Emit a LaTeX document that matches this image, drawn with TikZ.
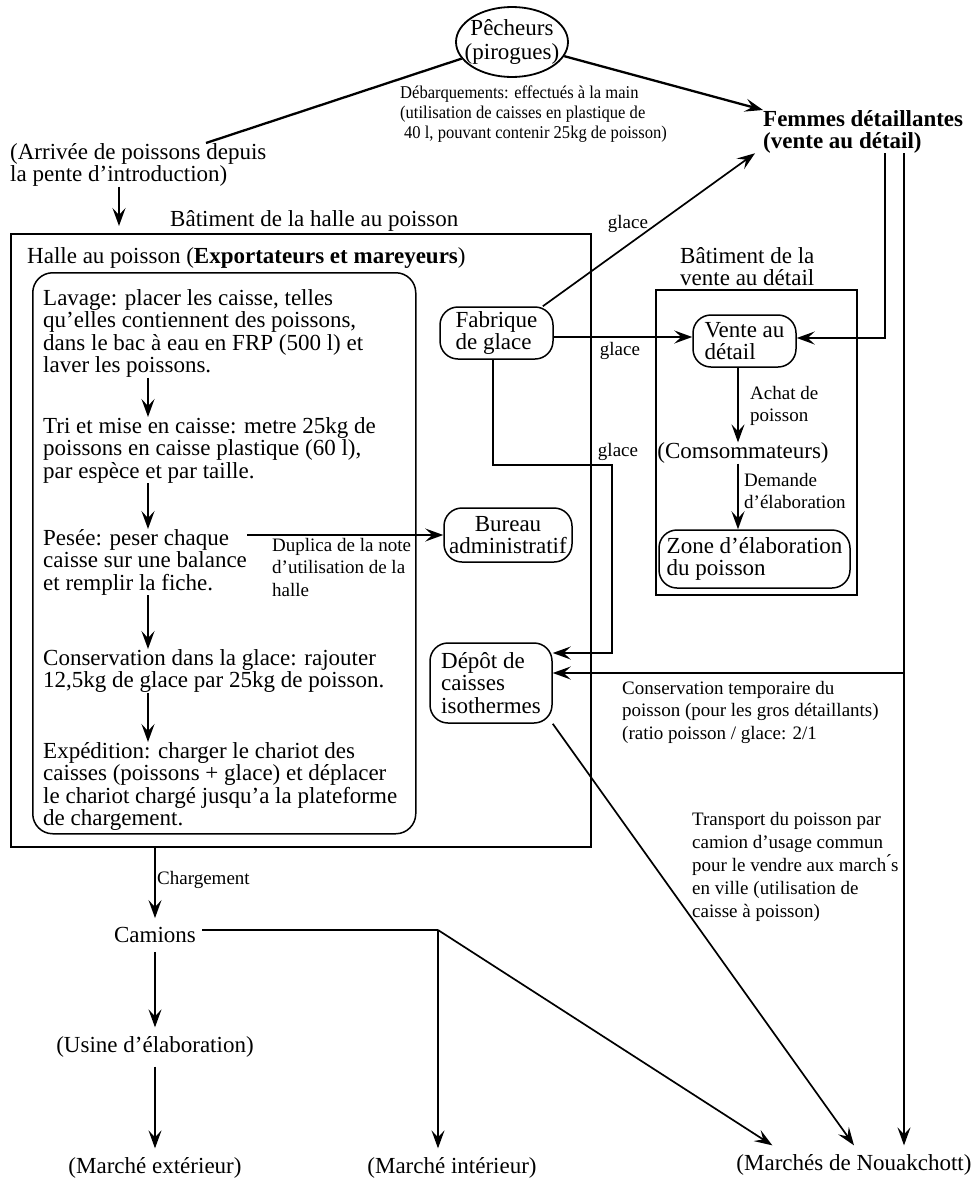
\documentclass[tikz,border=0pt]{standalone}
\usepackage{fontspec}
\setmainfont{Liberation Serif}
\newfontfamily\narrowserif[FakeStretch=0.92]{Liberation Serif}
\usetikzlibrary{arrows.meta,shapes.geometric,calc}

\tikzset{
  txt/.style={font=\fontsize{23}{22.5}\selectfont, inner sep=0pt, align=left},
  lbl/.style={font=\fontsize{19}{22.5}\selectfont, inner sep=0pt, align=left},
  endtxt/.style={font=\fontsize{23}{22.5}\selectfont, inner xsep=6pt, inner ysep=9pt},
  frame/.style={draw, line width=1.5pt, inner sep=0pt},
  rbox/.style={draw, line width=1.5pt, rounded corners=18pt, inner sep=0pt,
               font=\fontsize{23}{22.5}\selectfont, align=left},
  conn/.style={line width=1.7pt},
  arr/.style={conn, -{Stealth[length=18pt,width=13pt,inset=7pt]}},
  heavy/.style={line width=2.3pt},
}

\begin{document}
\begin{tikzpicture}[x=1pt,y=-1pt]
\useasboundingbox (0,0) rectangle (974,1178);

% --- fishermen and landing ---
\node[draw, ellipse, line width=1.8pt, minimum width=112pt, minimum height=70pt,
      inner sep=-10pt, font=\fontsize{23}{24}\selectfont, align=center]
  (pech) at (512,42) {Pêcheurs\\(pirogues)};
\node[lbl, font=\narrowserif\fontsize{18}{20}\selectfont, anchor=north west] (deb) at (400,86)
  {Débarquements: effectués à la main\\(utilisation de caisses en plastique de\\\hspace{4pt}40 l, pouvant contenir 25kg de poisson)};
\node[txt, font={\fontsize{23}{22}\selectfont\bfseries}, anchor=north west]
  (femmes) at (763,110) {Femmes détaillantes\\(vente au détail)};
\node[txt, anchor=north west] (arrivee) at (10,143)
  {(Arrivée de poissons depuis\\la pente d'introduction)};
\coordinate (arrend) at (206,143);

\draw[conn, heavy] (pech) -- (arrend);
\draw[arr, heavy] (pech) -- (femmes.north west);

% --- fish hall building ---
\node[txt, anchor=north west] (bath) at (170,210) {Bâtiment de la halle au poisson};
\node[frame, anchor=north west, minimum width=580pt, minimum height=613pt] (halle) at (10,233) {};
\node[txt, anchor=north west] (titre) at (27,247)
  {Halle au poisson (\textbf{Exportateurs et mareyeurs})};
\node[frame, rounded corners=20pt, anchor=north west, minimum width=383pt,
      minimum height=561pt] (proc) at (32,272) {};

\coordinate (ax) at (119,0);
\draw[arr, shorten >=7pt] (arrivee.south -| ax) -- (halle.north -| ax);

% --- processing steps ---
\node[txt, anchor=north west] (lav) at (43,289)
  {Lavage: placer les caisse, telles\\qu'elles contiennent des poissons,\\dans le bac à eau en FRP (500 l) et\\laver les poissons.};
\node[txt, anchor=north west] (tri) at (43,417)
  {Tri et mise en caisse: metre 25kg de\\poissons en caisse plastique (60 l),\\par espèce et par taille.};
\node[txt, anchor=north west] (pes) at (43,529)
  {Pesée: peser chaque\\caisse sur une balance\\et remplir la fiche.};
\node[txt, anchor=north west] (cons) at (43,649)
  {Conservation dans la glace: rajouter\\12,5kg de glace par 25kg de poisson.};
\node[txt, anchor=north west] (exp) at (43,742)
  {Expédition: charger le chariot des\\caisses (poissons + glace) et déplacer\\le chariot chargé jusqu'a la plateforme\\de chargement.};

\coordinate (sx) at (148,0);
\draw[arr] (lav.south -| sx) -- (tri.north -| sx);
\draw[arr] (tri.south -| sx) -- (pes.north -| sx);
\draw[arr] (pes.south -| sx) -- (cons.north -| sx);
\draw[arr] (cons.south -| sx) -- (exp.north -| sx);

% --- services of the hall ---
\node[rbox, minimum width=113pt, minimum height=52pt] (fab) at (496.5,333) {Fabrique\\de glace};
\node[rbox, minimum width=128pt, minimum height=54pt, align=center] (bureau) at (508,535) {Bureau\\administratif};
\node[rbox, minimum width=122pt, minimum height=80pt] (depot) at (491,683) {Dépôt de\\caisses\\isothermes};

\draw[arr] (pes.east |- bureau.west) -- (bureau.west);
\node[lbl, anchor=north west] (dupl) at (272,538) {Duplica de la note\\d'utilisation de la\\halle};

% --- retail building ---
\node[txt, anchor=north west] (batv) at (680,247) {Bâtiment de la\\vente au détail};
\node[frame, anchor=north west, minimum width=201pt, minimum height=305pt] (retail) at (655,289) {};
\node[rbox, minimum width=103pt, minimum height=52pt] (vente) at (744.5,341) {Vente au\\détail};
\node[txt] (comso) at (743,453) {(Comsommateurs)};
\node[rbox, minimum width=191pt, minimum height=58pt] (zone) at (754.5,559) {Zone d'élaboration\\du poisson};

\coordinate (vx) at (738,0);
\draw[arr] (vente.south -| vx) -- (comso.north -| vx);
\node[lbl, anchor=north west] (achat) at (750,386) {Achat de\\poisson};
\draw[arr] (comso.south -| vx) -- (zone.north -| vx);
\node[lbl, anchor=north west] (dem) at (744,473) {Demande\\d'élaboration};

% --- ice distribution ---
\coordinate (ay) at (0,337);
\draw[arr] (fab.east |- ay) -- (vente.west |- ay);
\node[lbl] (g2) at (620,351) {glace};

\draw[arr] (fab.30) -- ([xshift=-8pt]femmes.south west);
\node[lbl] (g1) at (628,224) {glace};

\coordinate (gv1) at (493,0);
\coordinate (gv2) at (612,465);
\coordinate (gy) at (0,653);
\draw[arr] (fab.south -| gv1) |- (gv2) |- (depot.east |- gy);
\node[lbl] (g3) at (618,452) {glace};

% --- destinations ---
\node[endtxt] (camions) at (155,935) {Camions};
\node[endtxt] (usine) at (155,1047) {(Usine d'élaboration)};
\node[endtxt] (mext) at (155,1168) {(Marché extérieur)};
\node[endtxt] (mint) at (452,1168) {(Marché intérieur)};
\node[endtxt] (nouak) at (854,1165) {(Marchés de Nouakchott)};

% --- retailers' flows ---
\coordinate (fx1) at (885,0);
\coordinate (fx2) at (904,0);
\coordinate (ay2) at (0,338);
\draw[arr] (femmes.south -| fx1) |- (vente.east |- ay2);
\draw[arr] (femmes.south -| fx2) -- (nouak.north -| fx2);
\coordinate (cb) at (904,673);
\draw[arr] (cb) -- (depot.east |- cb);
\node[lbl, anchor=north west] (tempo) at (622,681)
  {Conservation temporaire du\\poisson (pour les gros détaillants)\\(ratio poisson / glace: 2/1};
\node[lbl, anchor=north west, font=\fontsize{19}{23}\selectfont] (transp) at (692,812)
  {Transport du poisson par\\camion d'usage commun\\pour le vendre aux march\'{}s\\en ville (utilisation de\\caisse à poisson)};
\draw[arr] (depot.south east) -- (nouak.north);

% --- trucks ---
\draw[arr] (halle.south -| camions.north) -- (camions.north);
\node[lbl, anchor=west] (charg) at (157,880) {Chargement};
\draw[arr] (camions.south) -- (usine.north);
\draw[arr] (usine.south) -- (mext.north);
\coordinate (cj) at (438,930);
\draw[conn] (camions.east |- cj) -- (cj);
\draw[arr] (cj) -- (cj |- mint.north);
\draw[arr] (cj) -- ($(nouak.north west)!0.17!(nouak.north east)$);

\end{tikzpicture}
\end{document}
